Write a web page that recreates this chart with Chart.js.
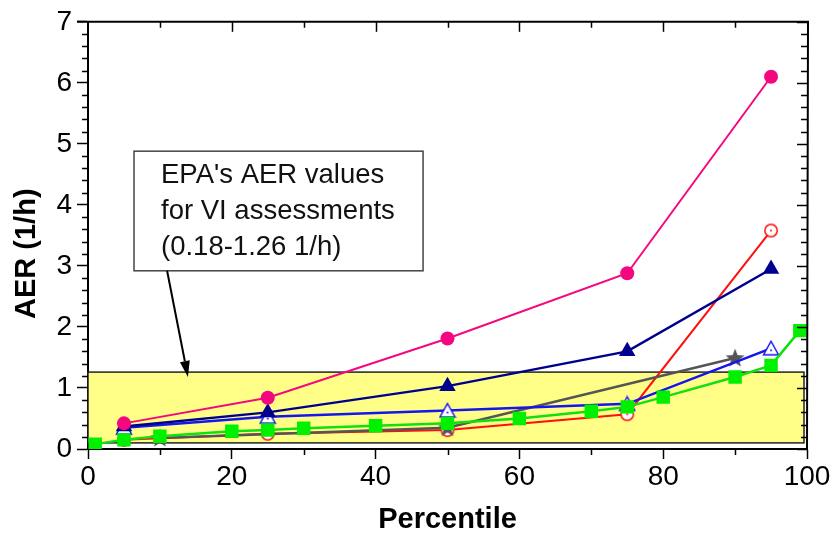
<!DOCTYPE html>
<html>
<head>
<meta charset="utf-8">
<script src="https://cdn.jsdelivr.net/npm/chart.js@4/dist/chart.umd.min.js"></script>
<style>
  html, body { margin: 0; padding: 0; background: #ffffff; }
  #wrap { width: 832px; height: 538px; }
</style>
</head>
<body>
<div id="wrap"><canvas id="c" width="832" height="538"></canvas></div>
<script>
// ---- Data ----
const pctMain = [5, 25, 50, 75, 95];
const pinkVals = [0.42, 0.84, 1.81, 2.88, 6.10];
const navyVals = [0.37, 0.60, 1.03, 1.60, 2.95];
const blueOpenVals = [0.35, 0.53, 0.63, 0.74, 1.65];
const redVals = [0.15, 0.25, 0.31, 0.57, 3.58];
const pctStar = [10, 50, 90];
const starVals = [0.18, 0.35, 1.49];
const pctGreen = [1, 5, 10, 20, 25, 30, 40, 50, 60, 70, 75, 80, 90, 95, 99];
const greenVals = [0.08, 0.15, 0.21, 0.29, 0.31, 0.34, 0.38, 0.42, 0.50, 0.62, 0.69, 0.85, 1.18, 1.37, 1.94];
const xTicks = [0, 20, 40, 60, 80, 100];
const yTicks = [0, 1, 2, 3, 4, 5, 6, 7];
const epaBand = [0.1, 1.26];
const noteLines = ["EPA's AER values", "for VI assessments", "(0.18-1.26 1/h)"];
const yTitle = 'AER (1/h)';

const pts = (xs, ys) => xs.map((x, i) => ({ x: x, y: ys[i] }));

// ---- custom point images ----
function mkCanvas(w, h) { const c = document.createElement('canvas'); c.width = w; c.height = h; return c; }
function starImg(color) {
  const c = mkCanvas(22, 22), g = c.getContext('2d');
  g.fillStyle = color; g.beginPath();
  for (let i = 0; i < 10; i++) {
    const r = i % 2 === 0 ? 10 : 4.2;
    const a = -Math.PI / 2 + i * Math.PI / 5;
    const px = 11 + r * Math.cos(a), py = 11.5 + r * Math.sin(a);
    i === 0 ? g.moveTo(px, py) : g.lineTo(px, py);
  }
  g.closePath(); g.fill();
  return c;
}
function openCircleImg(color) {
  const c = mkCanvas(16, 16), g = c.getContext('2d');
  g.fillStyle = '#fff'; g.strokeStyle = color; g.lineWidth = 1.5;
  g.beginPath(); g.arc(8, 8, 6.2, 0, Math.PI * 2); g.fill(); g.stroke();
  g.fillStyle = color; g.beginPath(); g.arc(8, 8, 1, 0, Math.PI * 2); g.fill();
  return c;
}
function openTriImg(color) {
  const c = mkCanvas(18, 17), g = c.getContext('2d');
  g.fillStyle = '#fff'; g.strokeStyle = color; g.lineWidth = 1.5;
  g.beginPath(); g.moveTo(9, 1.5); g.lineTo(16.5, 15); g.lineTo(1.5, 15); g.closePath(); g.fill(); g.stroke();
  g.fillStyle = color; g.beginPath(); g.arc(9, 10.5, 1, 0, Math.PI * 2); g.fill();
  return c;
}

const C = {
  pink: '#F5087F', navy: '#00008F', blue: '#1515F0', red: '#FF1010', gray: '#555555', green: '#10E010', greenPt: '#00F000'
};
const FAM = "'Liberation Sans', Arial, sans-serif";

// ---- plugin: band, frame, minor ticks, annotation, y title ----
const decor = {
  id: 'decor',
  beforeDatasetsDraw(chart) {
    const { ctx, scales: { x, y } } = chart;
    const l = x.getPixelForValue(0), r = x.getPixelForValue(100) - 3;
    const t = y.getPixelForValue(epaBand[1]), b = y.getPixelForValue(epaBand[0]);
    ctx.save();
    ctx.fillStyle = '#FFFF88';
    ctx.fillRect(l, t, r - l, b - t);
    ctx.strokeStyle = '#222'; ctx.lineWidth = 1.5;
    ctx.strokeRect(l, t, r - l, b - t);
    ctx.restore();
  },
  afterDraw(chart) {
    const { ctx, chartArea: a, scales: { x, y } } = chart;
    ctx.save();
    ctx.strokeStyle = '#000'; ctx.lineWidth = 2;
    // frame top/right
    ctx.beginPath();
    ctx.moveTo(a.left - 11, a.top); ctx.lineTo(a.right + 1, a.top); ctx.lineTo(a.right, a.bottom);
    ctx.stroke();
    ctx.lineWidth = 1.5;
    // y ticks: minor outward on left, all inward on right
    for (let v = 0; v <= 7.0001; v += 0.2) {
      const py = Math.round(y.getPixelForValue(v)) + 0.5;
      const major = Math.abs(v - Math.round(v)) < 1e-6;
      ctx.beginPath();
      if (!major) { ctx.moveTo(a.left - 6, py); ctx.lineTo(a.left, py); }
      ctx.moveTo(a.right - (major ? 10 : 6), py); ctx.lineTo(a.right, py);
      ctx.stroke();
    }
    // x ticks: minor outward on bottom, all inward on top
    for (let v = 0; v <= 100; v += 10) {
      const px = Math.round(x.getPixelForValue(v)) + 0.5;
      const major = v % 20 === 0;
      ctx.beginPath();
      if (!major) { ctx.moveTo(px, a.bottom); ctx.lineTo(px, a.bottom + 6); }
      if (v > 0 && v < 100) { ctx.moveTo(px, a.top); ctx.lineTo(px, a.top + (major ? 10 : 6)); }
      ctx.stroke();
    }
    // annotation box (data coordinates)
    const bx0 = x.getPixelForValue(6.4), bx1 = x.getPixelForValue(46.6);
    const by0 = y.getPixelForValue(4.88), by1 = y.getPixelForValue(2.92);
    ctx.fillStyle = '#fff';
    ctx.fillRect(bx0, by0, bx1 - bx0, by1 - by0);
    ctx.strokeStyle = '#444'; ctx.lineWidth = 1.5;
    ctx.strokeRect(bx0, by0, bx1 - bx0, by1 - by0);
    ctx.fillStyle = '#111';
    ctx.font = "27.5px " + FAM;
    ctx.textBaseline = 'middle'; ctx.textAlign = 'left';
    noteLines.forEach((s, i) => ctx.fillText(s, bx0 + 27, by0 + 24 + i * 36));
    // arrow
    const ax0 = x.getPixelForValue(11.0), ay0 = by1;
    const ax1 = x.getPixelForValue(13.9), ay1 = y.getPixelForValue(1.18);
    ctx.strokeStyle = '#000'; ctx.lineWidth = 2;
    const ang = Math.atan2(ay1 - ay0, ax1 - ax0);
    const hl = 16, hw = 5;
    const bxh = ax1 - hl * Math.cos(ang), byh = ay1 - hl * Math.sin(ang);
    ctx.beginPath(); ctx.moveTo(ax0, ay0); ctx.lineTo(bxh, byh); ctx.stroke();
    ctx.fillStyle = '#000';
    ctx.beginPath();
    ctx.moveTo(ax1, ay1);
    ctx.lineTo(bxh + hw * Math.sin(ang), byh - hw * Math.cos(ang));
    ctx.lineTo(bxh - hw * Math.sin(ang), byh + hw * Math.cos(ang));
    ctx.closePath(); ctx.fill();
    // y axis title
    ctx.translate(27, y.getPixelForValue(3.2));
    ctx.rotate(-Math.PI / 2);
    ctx.font = "bold 29px " + FAM;
    ctx.textAlign = 'center'; ctx.textBaseline = 'middle';
    ctx.fillStyle = '#000';
    ctx.fillText(yTitle, 0, 0);
    ctx.restore();
  }
};

const tickFont = { family: FAM, size: 28 };
const titleFont = { family: FAM, size: 29, weight: 'bold' };

new Chart(document.getElementById('c'), {
  type: 'scatter',
  data: {
    datasets: [
      { label: 'green', data: pts(pctGreen, greenVals), showLine: true, borderColor: C.green, backgroundColor: C.greenPt,
        borderWidth: 2.5, pointStyle: 'rect', pointRadius: 9.5, pointBorderWidth: 0 },
      { label: 'pink', data: pts(pctMain, pinkVals), showLine: true, borderColor: C.pink, backgroundColor: C.pink,
        borderWidth: 2, pointStyle: 'circle', pointRadius: 7, pointBorderWidth: 0 },
      { label: 'navy', data: pts(pctMain, navyVals), showLine: true, borderColor: C.navy, backgroundColor: C.navy,
        borderWidth: 2.5, pointStyle: 'triangle', pointRadius: 9.5, pointBorderWidth: 0 },
      { label: 'blueOpen', data: pts(pctMain, blueOpenVals), showLine: true, borderColor: C.blue, backgroundColor: C.blue,
        borderWidth: 2.5, pointStyle: openTriImg(C.blue) },
      { label: 'star', data: pts(pctStar, starVals), showLine: true, borderColor: C.gray, backgroundColor: C.gray,
        borderWidth: 2.5, pointStyle: starImg(C.gray) },
      { label: 'red', data: pts(pctMain, redVals), showLine: true, borderColor: C.red, backgroundColor: C.red,
        borderWidth: 2, pointStyle: openCircleImg(C.red) }
    ]
  },
  options: {
    responsive: false,
    animation: false,
    layout: { padding: { top: 20, right: 25, left: 0, bottom: 0 } },
    plugins: { legend: { display: false }, tooltip: { enabled: false } },
    scales: {
      x: {
        type: 'linear', min: 0, max: 100,
        afterBuildTicks: (s) => { s.ticks = xTicks.map(v => ({ value: v })); },
        afterFit: (s) => { s.height = 89; },
        ticks: { color: '#000', font: tickFont, padding: 1, maxRotation: 0 },
        grid: { drawOnChartArea: false, drawTicks: true, tickLength: 10, tickWidth: 1.5, tickColor: '#000' },
        border: { display: true, color: '#000', width: 2 },
        title: { display: true, text: 'Percentile', color: '#000', font: titleFont, padding: { top: 0, bottom: 1 } }
      },
      y: {
        type: 'linear', min: 0, max: 7,
        afterBuildTicks: (s) => { s.ticks = yTicks.map(v => ({ value: v })); },
        afterFit: (s) => { s.width = 88; },
        ticks: { color: '#000', font: tickFont, padding: 5 },
        grid: { drawOnChartArea: false, drawTicks: true, tickLength: 11, tickWidth: 1.5, tickColor: '#000' },
        border: { display: true, color: '#000', width: 2 },
        title: { display: false }
      }
    }
  },
  plugins: [decor]
});
</script>
</body>
</html>
